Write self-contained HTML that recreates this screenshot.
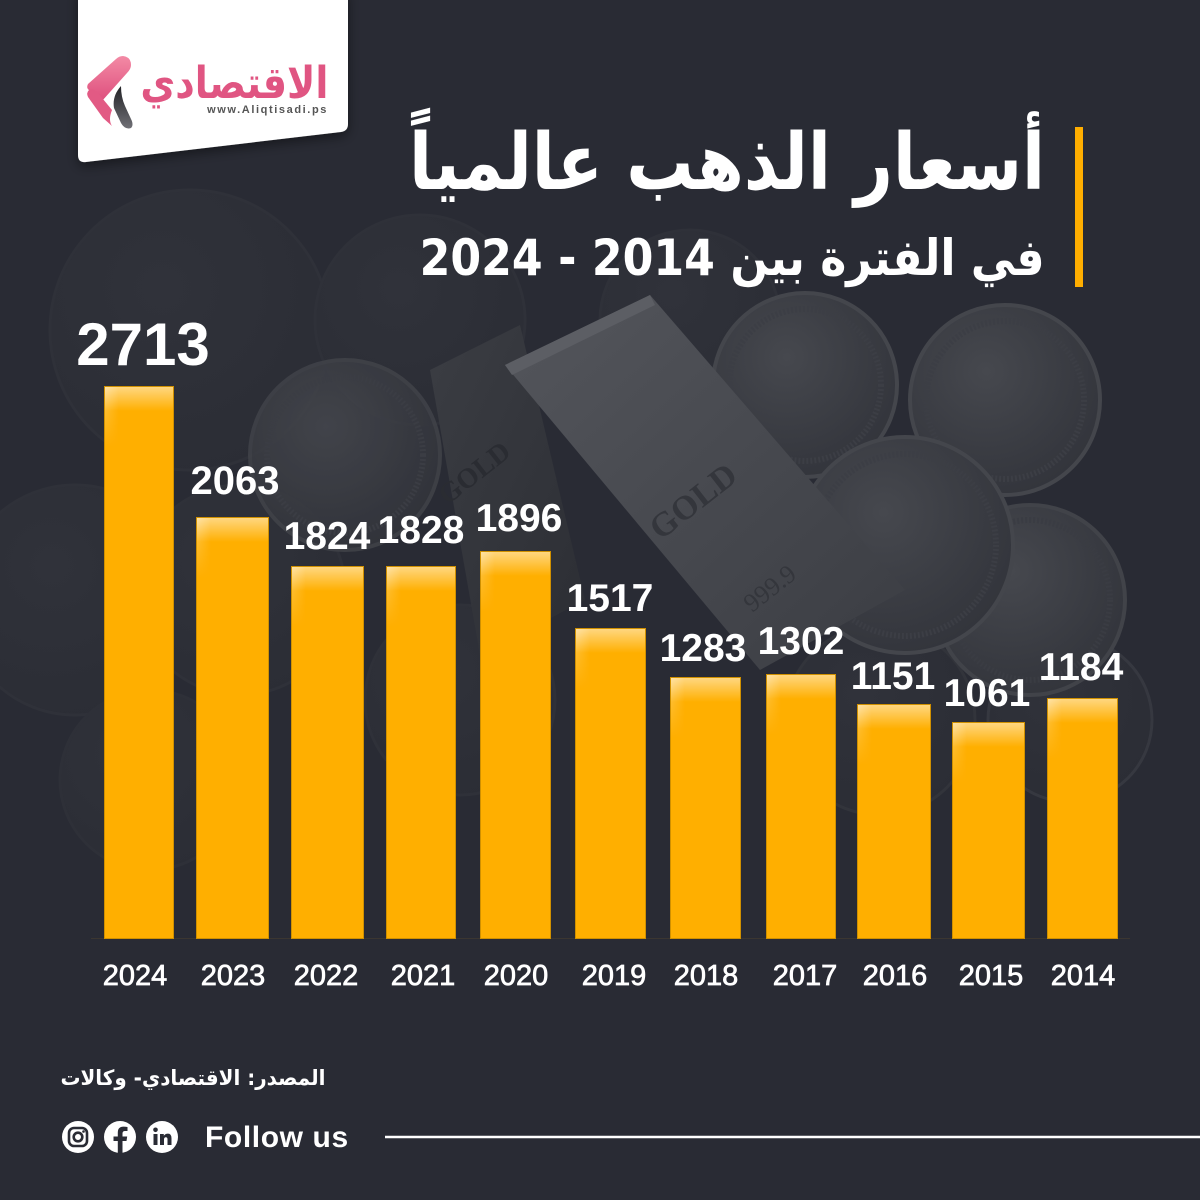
<!DOCTYPE html>
<html>
<head>
<meta charset="utf-8">
<style>
  html,body{margin:0;padding:0;background:#292b34;}
  #wrap{position:relative;width:1200px;height:1200px;overflow:hidden;background:#292b34;}
  svg{position:absolute;left:0;top:0;}
  .ar{position:absolute;white-space:nowrap;direction:rtl;font-family:"DejaVu Sans",sans-serif;font-weight:bold;line-height:1;transform-origin:100% 50%;}
</style>
</head>
<body>
<div id="wrap">
<svg width="1200" height="1200" viewBox="0 0 1200 1200" xmlns="http://www.w3.org/2000/svg">
  <defs>
    <radialGradient id="coin" cx="0.4" cy="0.35" r="0.7">
      <stop offset="0" stop-color="#46484e"/>
      <stop offset="1" stop-color="#32343b"/>
    </radialGradient>
    <radialGradient id="coinf" cx="0.4" cy="0.35" r="0.7">
      <stop offset="0" stop-color="#30323a"/>
      <stop offset="1" stop-color="#2b2d35"/>
    </radialGradient>
    <linearGradient id="barbg" x1="0" y1="0" x2="1" y2="1">
      <stop offset="0" stop-color="#54565c"/>
      <stop offset="1" stop-color="#3b3d43"/>
    </linearGradient>
    <linearGradient id="barbg2" x1="0" y1="0" x2="1" y2="1">
      <stop offset="0" stop-color="#3b3d43"/>
      <stop offset="1" stop-color="#2c2e34"/>
    </linearGradient>
    <linearGradient id="glv" x1="0" y1="0" x2="0" y2="1">
      <stop offset="0" stop-color="#ffffff" stop-opacity="0.5"/>
      <stop offset="1" stop-color="#ffffff" stop-opacity="0"/>
    </linearGradient>
    <linearGradient id="glh" x1="0" y1="0" x2="1" y2="0">
      <stop offset="0" stop-color="#ffffff" stop-opacity="0.3"/>
      <stop offset="1" stop-color="#ffffff" stop-opacity="0"/>
    </linearGradient>
    <linearGradient id="glhv" x1="0" y1="0" x2="0" y2="1">
      <stop offset="0" stop-color="#ffffff" stop-opacity="1"/>
      <stop offset="1" stop-color="#ffffff" stop-opacity="0"/>
    </linearGradient>
    <mask id="fadem" maskContentUnits="objectBoundingBox">
      <rect x="0" y="0" width="1" height="1" fill="url(#glhv)"/>
    </mask>
    <filter id="sh" x="-20%" y="-20%" width="140%" height="140%">
      <feDropShadow dx="0" dy="4" stdDeviation="6" flood-color="#000" flood-opacity="0.45"/>
    </filter>
    <linearGradient id="pink" x1="0" y1="0" x2="0" y2="1">
      <stop offset="0" stop-color="#f38aa5"/>
      <stop offset="1" stop-color="#de4f7d"/>
    </linearGradient>
    <linearGradient id="dgray" x1="0" y1="0" x2="0" y2="1">
      <stop offset="0" stop-color="#222226"/>
      <stop offset="1" stop-color="#707076"/>
    </linearGradient>
  </defs>

  <!-- faint background coins -->
  <g>
    <circle cx="190" cy="330" r="140" fill="url(#coinf)" stroke="#2f3139" stroke-width="3"/>
    <circle cx="420" cy="320" r="105" fill="url(#coinf)" stroke="#2f3139" stroke-width="3"/>
    <circle cx="75" cy="600" r="115" fill="url(#coinf)" stroke="#2f3139" stroke-width="3"/>
    <circle cx="240" cy="590" r="105" fill="url(#coinf)" stroke="#2f3139" stroke-width="3"/>
    <circle cx="460" cy="700" r="95" fill="url(#coinf)" stroke="#2f3139" stroke-width="3"/>
    <circle cx="690" cy="320" r="90" fill="url(#coinf)" stroke="#2f3139" stroke-width="3"/>
    <circle cx="880" cy="720" r="95" fill="url(#coinf)" stroke="#32343b" stroke-width="3"/>
    <circle cx="1070" cy="720" r="82" fill="url(#coinf)" stroke="#363840" stroke-width="3"/>
    <circle cx="150" cy="780" r="90" fill="url(#coinf)" stroke="#2e3038" stroke-width="3"/>
  </g>
  <!-- left francaise coin -->
  <circle cx="345" cy="455" r="95" fill="url(#coin)" stroke="#414349" stroke-width="4" opacity="0.85"/>
  <circle cx="345" cy="455" r="78" fill="none" stroke="#3b3d44" stroke-width="6" stroke-dasharray="2 2"/>
  <!-- back gold bar -->
  <polygon points="430,370 520,325 585,600 480,655" fill="url(#barbg2)"/>
  <!-- right coins -->
  <circle cx="1030" cy="600" r="95" fill="url(#coin)" stroke="#414349" stroke-width="4"/>
  <circle cx="1030" cy="600" r="80" fill="none" stroke="#3a3c43" stroke-width="6" stroke-dasharray="2 2"/>
  <circle cx="805" cy="385" r="92" fill="url(#coin)" stroke="#44464c" stroke-width="4"/>
  <circle cx="805" cy="385" r="76" fill="none" stroke="#3c3e45" stroke-width="6" stroke-dasharray="2 2"/>
  <circle cx="1005" cy="400" r="95" fill="url(#coin)" stroke="#44464c" stroke-width="4"/>
  <circle cx="1005" cy="400" r="79" fill="none" stroke="#3c3e45" stroke-width="6" stroke-dasharray="2 2"/>
  <circle cx="905" cy="545" r="108" fill="url(#coin)" stroke="#44464c" stroke-width="4"/>
  <circle cx="905" cy="545" r="91" fill="none" stroke="#3c3e45" stroke-width="6" stroke-dasharray="2 2"/>
  <!-- main gold bar -->
  <polygon points="505,365 650,295 905,590 760,670" fill="url(#barbg)"/>
  <polygon points="505,365 650,295 655,305 512,375" fill="#5c5e64"/>
  <text x="0" y="0" transform="translate(700,510) rotate(-38)" font-family="Liberation Serif,serif" font-size="34" font-weight="bold" fill="#34363c" text-anchor="middle">GOLD</text>
  <text x="0" y="0" transform="translate(775,595) rotate(-38)" font-family="Liberation Serif,serif" font-size="26" fill="#34363c" text-anchor="middle">999.9</text>
  <text x="0" y="0" transform="translate(480,480) rotate(-38)" font-family="Liberation Serif,serif" font-size="28" font-weight="bold" fill="#2a2c32" text-anchor="middle">GOLD</text>

  <!-- logo card -->
  <g filter="url(#sh)">
    <path d="M78,-10 L348,-10 L348,124 Q348,131 341,132 L86,162 Q78,163 78,155 Z" fill="#ffffff"/>
  </g>
  <!-- logo chevron -->
  <path d="M123,56 Q131,57 131,65 Q131,69 127,73 L102,101 L97,94 Q94,90 89,90 Q86,88 88,84 L116,59 Q119,56 123,56 Z" fill="url(#pink)"/>
  <path d="M89,90 Q93,88 98,93 L112,110 Q108,120 112,126 L103,118 L88,97 Q86,93 89,90 Z" fill="#e25a84"/>
  <path d="M121,86 Q112,96 114,108 L121,123 Q125,130 131,128 Q134,125 131,119 L125,106 Q121,97 121,86 Z" fill="url(#dgray)"/>
  <text x="328" y="113" text-anchor="end" font-family="Liberation Sans,sans-serif" font-size="11" font-weight="bold" letter-spacing="1.6" fill="#555">www.Aliqtisadi.ps</text>

  <!-- orange accent bar -->
  <rect x="1075" y="127" width="8" height="160" fill="#ffae00"/>

  <!-- baseline -->
  <line x1="91" y1="938.5" x2="1130" y2="938.5" stroke="#3b3631" stroke-width="1"/>

  <!-- bars -->
  <g stroke="#d09000" stroke-width="1" fill="#ffaf00">
    <rect x="104.5" y="386.5" width="69" height="552"/>
    <rect x="196.5" y="517.5" width="72" height="421"/>
    <rect x="291.5" y="566.5" width="72" height="372"/>
    <rect x="386.5" y="566.5" width="69" height="372"/>
    <rect x="480.5" y="551.5" width="70" height="387"/>
    <rect x="575.5" y="628.5" width="70" height="310"/>
    <rect x="670.5" y="677.5" width="70" height="261"/>
    <rect x="766.5" y="674.5" width="69" height="264"/>
    <rect x="857.5" y="704.5" width="73" height="234"/>
    <rect x="952.5" y="722.5" width="72" height="216"/>
    <rect x="1047.5" y="698.5" width="70" height="240"/>
  </g>
  <!-- gloss -->
  <g>
    <rect x="105" y="387" width="68" height="24" fill="url(#glv)"/>
    <rect x="105" y="387" width="14" height="60" fill="url(#glh)" mask="url(#fadem)"/>
    <rect x="197" y="518" width="71" height="24" fill="url(#glv)"/>
    <rect x="197" y="518" width="14" height="60" fill="url(#glh)" mask="url(#fadem)"/>
    <rect x="292" y="567" width="71" height="24" fill="url(#glv)"/>
    <rect x="292" y="567" width="14" height="60" fill="url(#glh)" mask="url(#fadem)"/>
    <rect x="387" y="567" width="68" height="24" fill="url(#glv)"/>
    <rect x="387" y="567" width="14" height="60" fill="url(#glh)" mask="url(#fadem)"/>
    <rect x="481" y="552" width="69" height="24" fill="url(#glv)"/>
    <rect x="481" y="552" width="14" height="60" fill="url(#glh)" mask="url(#fadem)"/>
    <rect x="576" y="629" width="69" height="24" fill="url(#glv)"/>
    <rect x="576" y="629" width="14" height="60" fill="url(#glh)" mask="url(#fadem)"/>
    <rect x="671" y="678" width="69" height="24" fill="url(#glv)"/>
    <rect x="671" y="678" width="14" height="60" fill="url(#glh)" mask="url(#fadem)"/>
    <rect x="767" y="675" width="68" height="24" fill="url(#glv)"/>
    <rect x="767" y="675" width="14" height="60" fill="url(#glh)" mask="url(#fadem)"/>
    <rect x="858" y="705" width="72" height="24" fill="url(#glv)"/>
    <rect x="858" y="705" width="14" height="60" fill="url(#glh)" mask="url(#fadem)"/>
    <rect x="953" y="723" width="71" height="24" fill="url(#glv)"/>
    <rect x="953" y="723" width="14" height="60" fill="url(#glh)" mask="url(#fadem)"/>
    <rect x="1048" y="699" width="69" height="24" fill="url(#glv)"/>
    <rect x="1048" y="699" width="14" height="60" fill="url(#glh)" mask="url(#fadem)"/>
  </g>

  <!-- value labels -->
  <g font-family="Liberation Sans,sans-serif" font-weight="bold" fill="#ffffff" text-anchor="middle">
    <text x="143" y="365" font-size="60">2713</text>
    <text x="235" y="494" font-size="40">2063</text>
    <text x="327" y="549" font-size="39">1824</text>
    <text x="421" y="543" font-size="39">1828</text>
    <text x="519" y="531" font-size="39">1896</text>
    <text x="610" y="611" font-size="39">1517</text>
    <text x="703" y="661" font-size="39">1283</text>
    <text x="801" y="654" font-size="39">1302</text>
    <text x="893" y="689" font-size="39">1151</text>
    <text x="987" y="706" font-size="39">1061</text>
    <text x="1081" y="680" font-size="39">1184</text>
  </g>

  <!-- year labels -->
  <g font-family="Liberation Sans,sans-serif" font-size="29" fill="#ffffff" stroke="#ffffff" stroke-width="0.7" text-anchor="middle">
    <text x="135" y="985">2024</text>
    <text x="233" y="985">2023</text>
    <text x="326" y="985">2022</text>
    <text x="423" y="985">2021</text>
    <text x="516" y="985">2020</text>
    <text x="614" y="985">2019</text>
    <text x="706" y="985">2018</text>
    <text x="805" y="985">2017</text>
    <text x="895" y="985">2016</text>
    <text x="991" y="985">2015</text>
    <text x="1083" y="985">2014</text>
  </g>

  <!-- footer icons -->
  <circle cx="78" cy="1137" r="16" fill="#ffffff"/>
  <rect x="69" y="1128" width="18" height="18" rx="5" fill="none" stroke="#292b34" stroke-width="2.6"/>
  <circle cx="78" cy="1137" r="4.3" fill="none" stroke="#292b34" stroke-width="2.6"/>
  <circle cx="83.5" cy="1131.5" r="1.3" fill="#292b34"/>
  <circle cx="120" cy="1137" r="16" fill="#ffffff"/>
  <path d="M122.5,1153 L122.5,1141 L126.5,1141 L127.2,1136.5 L122.5,1136.5 L122.5,1133.5 Q122.5,1131 125,1131 L127.5,1131 L127.5,1127 Q125.5,1126.6 123.5,1126.6 Q117.8,1126.6 117.8,1132.5 L117.8,1136.5 L113.5,1136.5 L113.5,1141 L117.8,1141 L117.8,1153 Z" fill="#292b34"/>
  <circle cx="162" cy="1137" r="16" fill="#ffffff"/>
  <rect x="153.5" y="1134" width="4" height="11" fill="#292b34"/>
  <circle cx="155.5" cy="1129.8" r="2.3" fill="#292b34"/>
  <path d="M160,1134 L163.8,1134 L163.8,1135.8 Q165.3,1133.6 168,1133.6 Q171.5,1133.6 171.5,1138.5 L171.5,1145 L167.5,1145 L167.5,1139.3 Q167.5,1137.2 165.8,1137.2 Q164,1137.2 164,1139.5 L164,1145 L160,1145 Z" fill="#292b34"/>
  <text x="205" y="1147" font-family="Liberation Sans,sans-serif" font-weight="bold" font-size="30" letter-spacing="0.6" fill="#ffffff">Follow us</text>
  <line x1="385" y1="1137" x2="1200" y2="1137" stroke="#ffffff" stroke-width="2.5"/>
</svg>

<div class="ar" id="logo" style="right:872px;top:62px;font-size:44px;color:#e05582;">الاقتصادي</div>
<div class="ar" id="t1" style="right:155px;top:124px;font-size:78px;color:#ffffff;">أسعار الذهب عالمياً</div>
<div class="ar" id="t2" style="right:155px;top:233px;font-size:50px;color:#ffffff;">في الفترة بين 2014 - 2024</div>
<div class="ar" id="src" style="right:875px;top:1068px;font-size:21px;color:#ffffff;">المصدر: الاقتصادي- وكالات</div>
</div>
<script>
(function(){
  function fit(id,w){
    var el=document.getElementById(id);
    var r=el.getBoundingClientRect().width;
    if(r>0){el.style.transform='scaleX('+(w/r)+')';}
  }
  fit('logo',188);
  fit('t1',636);
  fit('t2',625);
  fit('src',265);
})();
</script>
</body>
</html>
